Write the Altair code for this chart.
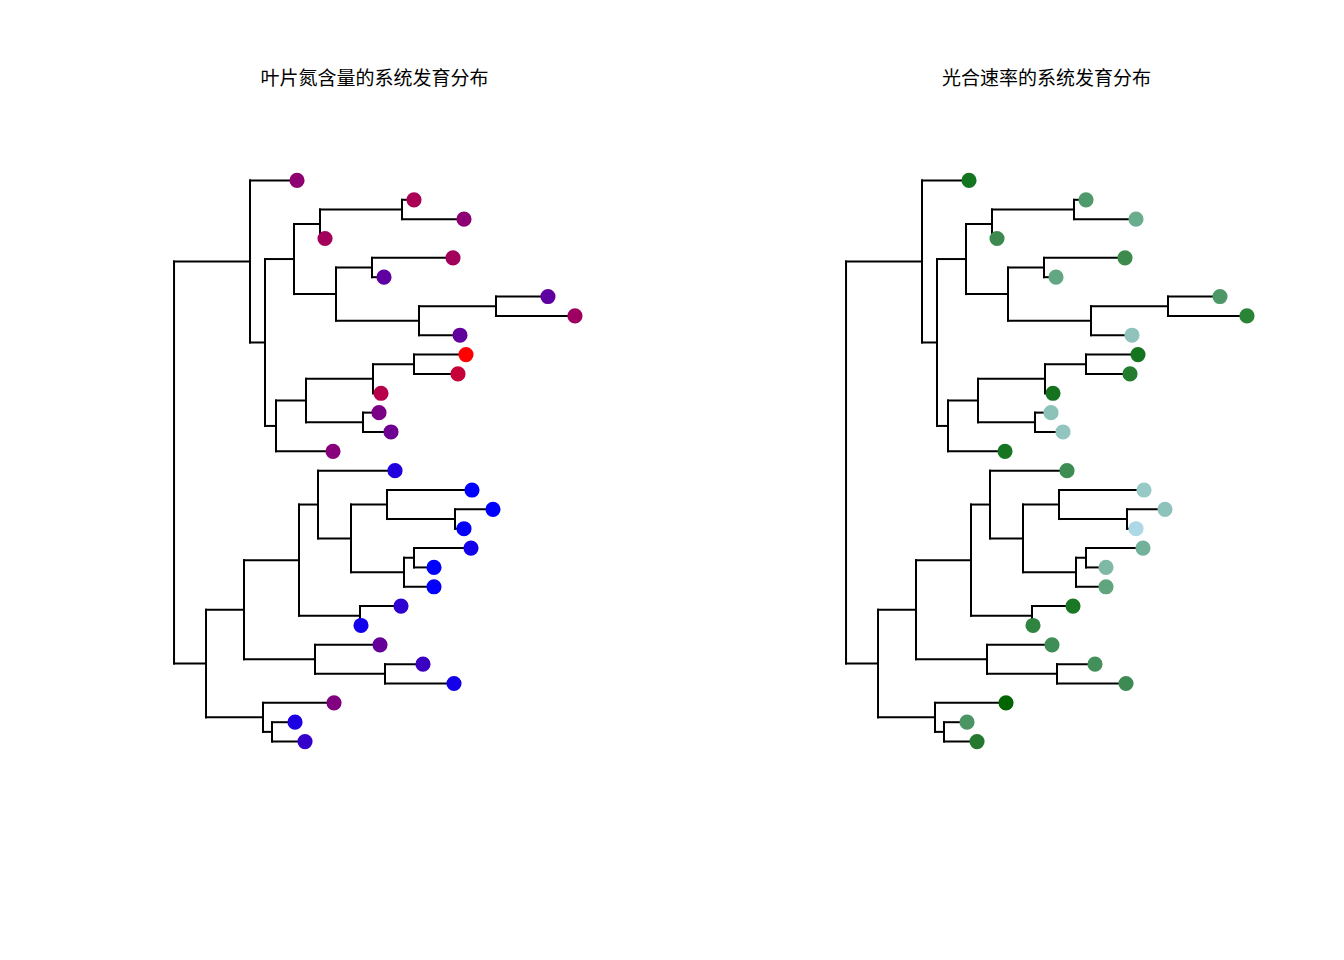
import altair as alt
import pandas as pd

# ---- tree topology (binary), internal node depths, tip depths ----
children = {
    "root": ["A", "B"],
    "A": ["t1", "C"], "C": ["D", "E"], "D": ["F", "G"], "F": ["H", "t4"],
    "H": ["t2", "t3"], "G": ["I", "J"], "I": ["t5", "t6"], "J": ["K", "t9"],
    "K": ["t7", "t8"], "E": ["L", "t15"], "L": ["M", "N"], "M": ["O", "t12"],
    "O": ["t10", "t11"], "N": ["t13", "t14"],
    "B": ["P", "Q"], "P": ["R", "S"], "R": ["T", "U"], "T": ["t16", "V"],
    "V": ["W", "X"], "W": ["t17", "Y"], "Y": ["t18", "t19"], "X": ["Z", "t22"],
    "Z": ["t20", "t21"], "U": ["t23", "t24"], "S": ["t25", "AA"],
    "AA": ["t26", "t27"], "Q": ["t28", "AB"], "AB": ["t29", "t30"],
}
internal_depth = {
    "root": 0.0, "A": 0.76, "C": 0.91, "D": 1.20, "F": 1.46, "H": 2.28,
    "G": 1.62, "I": 1.98, "J": 2.45, "K": 3.22, "E": 1.02, "L": 1.32,
    "M": 1.99, "O": 2.40, "N": 1.89, "B": 0.32, "P": 0.70, "R": 1.25,
    "T": 1.44, "V": 1.77, "W": 2.13, "Y": 2.81, "X": 2.30, "Z": 2.40,
    "U": 1.86, "S": 1.41, "AA": 2.11, "Q": 0.89, "AB": 0.98,
}
tip_depth = [1.23, 2.40, 2.90, 1.51, 2.79, 2.10, 3.74, 4.01, 2.86, 2.92,
             2.84, 2.07, 2.05, 2.17, 1.59, 2.21, 2.98, 3.19, 2.90, 2.97,
             2.60, 2.60, 2.27, 1.87, 2.06, 2.49, 2.80, 1.60, 1.21, 1.31]

left_colors = ["#8E0071", "#AA0055", "#8C0073", "#A3005C", "#A3005C", "#5F00A0",
               "#5F00A0", "#9E0061", "#62009D", "#FF0000", "#C60039", "#B7004A",
               "#7A0085", "#6E0091", "#88007A", "#2200DD", "#0000FF", "#0000FF",
               "#0500FA", "#1400EB", "#0000FF", "#0500FA", "#2E00D1", "#1200ED",
               "#650099", "#3C00C3", "#1500EA", "#800080", "#1C00E3", "#3500CA"]
right_colors = ["#147520", "#4F9A6A", "#6AAD8E", "#3D8A50", "#3C8A4C", "#62A684",
                "#4E9868", "#2A8436", "#8FC3BC", "#147520", "#247D2E", "#157320",
                "#8CC2B8", "#92C5C0", "#177522", "#3D8C52", "#97C9C7", "#8EC3BC",
                "#ADD8E6", "#72B29A", "#80B8A6", "#60A57E", "#1A7724", "#2F8540",
                "#3F8E56", "#43905A", "#3D8B52", "#006400", "#4A9563", "#24792E"]

titles = ["叶片氮含量的系统发育分布", "光合速率的系统发育分布"]

# ---- layout (ape phylogram style) ----
n_tips = len(tip_depth)
depth = dict(internal_depth)
ypos = {}
for i, d in enumerate(tip_depth):
    depth[f"t{i+1}"] = d
    ypos[f"t{i+1}"] = i + 1


def node_y(n):
    if n in ypos:
        return ypos[n]
    ys = [node_y(c) for c in children[n]]
    ypos[n] = sum(ys) / len(ys)
    return ypos[n]


node_y("root")
seg_rows = []
for p, ch in children.items():
    cy = [ypos[c] for c in ch]
    seg_rows.append({"x": depth[p], "x2": depth[p], "y": min(cy), "y2": max(cy)})
    for c in ch:
        seg_rows.append({"x": depth[p], "x2": depth[c], "y": ypos[c], "y2": ypos[c]})
segs = pd.DataFrame(seg_rows)

dmax = max(tip_depth)
xdom = [-0.04 * dmax, dmax * 1.04]
ydom = [1 - 0.04 * (n_tips - 1), n_tips + 0.04 * (n_tips - 1)]

W, H = 433, 606


def panel(colors, title):
    tips = pd.DataFrame({"x": tip_depth, "y": list(range(1, n_tips + 1)), "c": colors})
    xs = alt.Scale(domain=xdom, nice=False, zero=False)
    ys = alt.Scale(domain=ydom, nice=False, zero=False, reverse=True)
    lines = alt.Chart(segs).mark_rule(color="black", strokeWidth=2, strokeCap="square").encode(
        x=alt.X("x:Q", scale=xs, axis=None), x2="x2",
        y=alt.Y("y:Q", scale=ys, axis=None), y2="y2")
    pts = alt.Chart(tips).mark_circle(size=230, opacity=1).encode(
        x=alt.X("x:Q", scale=xs, axis=None),
        y=alt.Y("y:Q", scale=ys, axis=None),
        color=alt.Color("c:N", scale=None))
    return alt.layer(lines, pts).properties(
        width=W, height=H,
        title=alt.TitleParams(title, anchor="middle", fontSize=19, fontWeight="normal",
                              font="Noto Sans CJK SC", color="black", offset=69))


chart = alt.hconcat(panel(left_colors, titles[0]), panel(right_colors, titles[1]), spacing=239).configure(
    padding={"left": 158, "top": 70, "right": 0, "bottom": 0}
).configure_view(stroke=None).configure_concat(spacing=239)

chart.save("out.html", embed_options={"renderer": "svg", "actions": False})
